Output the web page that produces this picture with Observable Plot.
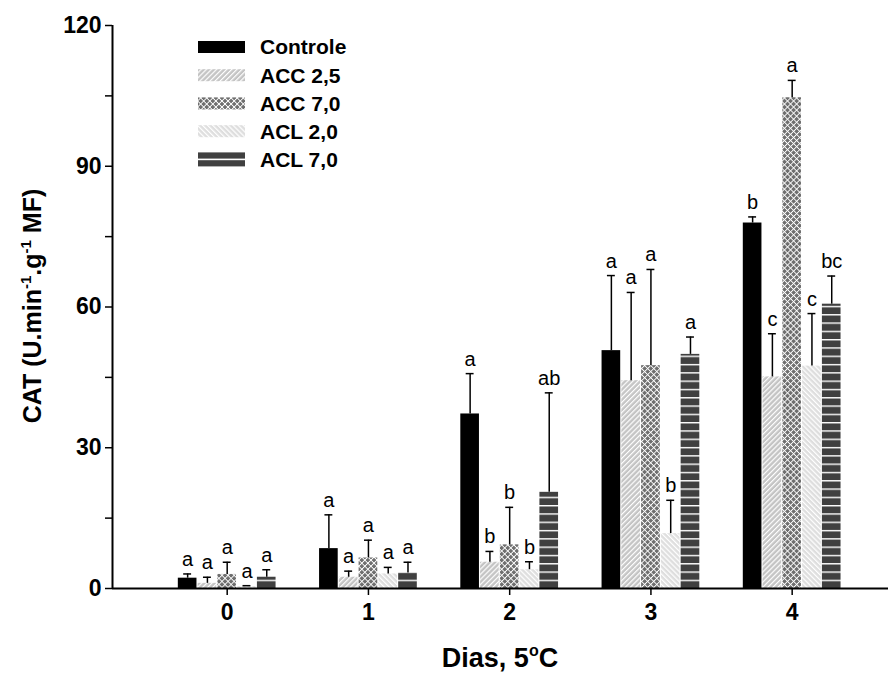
<!DOCTYPE html>
<html><head><meta charset="utf-8">
<script src="https://cdn.jsdelivr.net/npm/d3@7"></script>
<script src="https://cdn.jsdelivr.net/npm/@observablehq/plot@0.6"></script>
<style>
body{margin:0;background:#fff;}
#chart svg{font-family:"Liberation Sans",Arial,sans-serif;}
#chart g[aria-label="y-axis tick label"], #chart g[aria-label="x-axis tick label"]{font-size:23px;font-weight:bold;}
</style>
</head><body><div id="chart"></div>
<script>
// ---- data ----
const days = [0, 1, 2, 3, 4];
const series = ["Controle", "ACC 2,5", "ACC 7,0", "ACL 2,0", "ACL 7,0"];
const controleMean = [2.2, 8.5, 37.2, 50.7, 77.9];
const controleSd   = [0.9, 7.2, 8.6, 16.0, 1.3];
const acc25Mean = [1.1, 2.4, 5.6, 44.3, 45.1];
const acc25Sd   = [1.3, 1.3, 2.3, 18.8, 9.2];
const acc70Mean = [3.0, 6.5, 9.3, 47.5, 104.6];
const acc70Sd   = [2.6, 3.8, 8.0, 20.5, 3.7];
const acl20Mean = [0.4, 3.1, 4.0, 11.7, 47.4];
const acl20Sd   = [0.2, 1.4, 1.7, 7.1, 11.2];
const acl70Mean = [2.4, 3.3, 20.5, 49.9, 60.6];
const acl70Sd   = [1.6, 2.3, 21.2, 3.7, 6.0];
const controleLetters = ["a", "a", "a", "a", "b"];
const acc25Letters = ["a", "a", "b", "a", "c"];
const acc70Letters = ["a", "a", "b", "a", "a"];
const acl20Letters = ["a", "a", "b", "b", "c"];
const acl70Letters = ["a", "a", "ab", "a", "bc"];
const yTicks = [0, 30, 60, 90, 120];
const yMinorTicks = [15, 45, 75, 105];

// ---- table ----
const means = [controleMean, acc25Mean, acc70Mean, acl20Mean, acl70Mean];
const sds = [controleSd, acc25Sd, acc70Sd, acl20Sd, acl70Sd];
const letters = [controleLetters, acc25Letters, acc70Letters, acl20Letters, acl70Letters];
const slot = 0.14, halfBar = 0.066, halfCap = 0.028;
const data = [];
series.forEach((s, si) => days.forEach((d, di) => {
  const c = d + (si - 2) * slot;
  data.push({series: s, day: d, center: c, x1: c - halfBar, x2: c + halfBar,
    mean: means[si][di], top: means[si][di] + sds[si][di], letter: letters[si][di]});
}));

const fills = ["#000000", "url(#pAcc25)", "url(#pAcc70)", "url(#pAcl20)", "url(#pAcl70)"];
const FONT = "Liberation Sans, Arial, sans-serif";

const svg = Plot.plot({
  width: 888, height: 688,
  marginLeft: 112, marginRight: 0, marginTop: 25, marginBottom: 100,
  x: {type: "linear", domain: [-0.812, 4.682], nice: false},
  y: {domain: [0, 120], nice: false},
  color: {type: "ordinal", domain: series, range: fills},
  style: {fontFamily: FONT, background: "#fff", color: "#000"},
  marks: [
    Plot.rectY(data, {x1: "x1", x2: "x2", y1: 0, y2: "mean", fill: "series"}),
    Plot.ruleX(data, {x: "center", y1: "mean", y2: "top", stroke: "#000", strokeWidth: 1.5}),
    Plot.ruleY(data, {y: "top", x1: d => d.center - halfCap, x2: d => d.center + halfCap, stroke: "#000", strokeWidth: 1.5}),
    Plot.text(data, {x: "center", y: "top", text: "letter", dy: -8, lineAnchor: "bottom", fontSize: 20, fill: "#000"}),
    Plot.axisY({ticks: yTicks, tickSize: 7, tickPadding: 4, tickFormat: d => String(d), fontSize: 23, fontWeight: "bold", label: null, strokeWidth: 1.5}),
    Plot.axisY({ticks: yMinorTicks, tickSize: 7, tickFormat: () => "", label: null, strokeWidth: 1.5}),
    Plot.axisX({ticks: days, tickSize: 7, tickPadding: 8, tickFormat: d => String(d), fontSize: 23, fontWeight: "bold", label: null, strokeWidth: 1.5}),
    Plot.ruleY([0], {stroke: "#000", strokeWidth: 2}),
    Plot.ruleX([-0.812], {y1: 0, y2: 120, stroke: "#000", strokeWidth: 2})
  ]
});

// ---- patterns ----
const s = d3.select(svg);
const defs = s.insert("defs", ":first-child");
function stripes(id, base, rot, period, w) {
  const p = defs.append("pattern").attr("id", id).attr("patternUnits", "userSpaceOnUse")
    .attr("width", period).attr("height", period).attr("patternTransform", `rotate(${rot})`);
  p.append("rect").attr("width", period).attr("height", period).attr("fill", base);
  p.append("rect").attr("width", w).attr("height", period).attr("fill", "#fff");
}
stripes("pAcc25", "#c4c4c4", 45, 3.6, 1.2);
stripes("pAcl20", "#dedede", -45, 3.6, 1.2);
{
  const p = defs.append("pattern").attr("id", "pAcc70").attr("patternUnits", "userSpaceOnUse")
    .attr("width", 4.3).attr("height", 4.3).attr("patternTransform", "rotate(45)");
  p.append("rect").attr("width", 4.3).attr("height", 4.3).attr("fill", "#6e6e6e");
  p.append("rect").attr("width", 0.9).attr("height", 4.3).attr("fill", "#fff");
  p.append("rect").attr("width", 4.3).attr("height", 0.9).attr("fill", "#fff");
}
{
  const p = defs.append("pattern").attr("id", "pAcl70").attr("patternUnits", "userSpaceOnUse")
    .attr("width", 10).attr("height", 8.3).attr("y", 588);
  p.append("rect").attr("width", 10).attr("height", 8.3).attr("fill", "#404040");
  p.append("rect").attr("width", 10).attr("height", 1.4).attr("fill", "#fff");
}

// ---- legend ----
const lg = s.append("g").attr("font-family", FONT).attr("text-anchor", "start");
const rowY = [47, 75.2, 103.4, 131.2, 159.4];
series.forEach((name, i) => {
  const y = rowY[i];
  if (i === 4) {
    lg.append("rect").attr("x", 198).attr("y", y - 7).attr("width", 47).attr("height", 14).attr("fill", "#404040");
    lg.append("rect").attr("x", 198).attr("y", y - 0.8).attr("width", 47).attr("height", 1.6).attr("fill", "#fff");
  } else {
    lg.append("rect").attr("x", 198).attr("y", y - 6).attr("width", 47).attr("height", 12).attr("fill", fills[i]);
  }
  lg.append("text").attr("x", 260).attr("y", y).attr("dy", "0.35em").attr("text-anchor", "start")
    .attr("font-size", 21).attr("font-weight", "bold").attr("fill", "#000").text(name);
});

// ---- axis titles ----
const yt = s.append("text").attr("transform", "translate(41,306) rotate(-90)")
  .attr("text-anchor", "middle").attr("font-size", 25).attr("font-weight", "bold")
  .attr("font-family", FONT).attr("fill", "#000");
yt.append("tspan").text("CAT (U.min");
yt.append("tspan").attr("font-size", 15).attr("dy", -10).text("-1");
yt.append("tspan").attr("dy", 10).text(".g");
yt.append("tspan").attr("font-size", 15).attr("dy", -10).text("-1");
yt.append("tspan").attr("dy", 10).text(" MF)");

const xt = s.append("text").attr("x", 500).attr("y", 667)
  .attr("text-anchor", "middle").attr("font-size", 27).attr("font-weight", "bold")
  .attr("font-family", FONT).attr("fill", "#000");
xt.append("tspan").text("Dias, 5");
xt.append("tspan").attr("font-size", 16).attr("dy", -11).text("o");
xt.append("tspan").attr("dy", 11).text("C");

document.getElementById("chart").appendChild(svg);
</script>
</body></html>
